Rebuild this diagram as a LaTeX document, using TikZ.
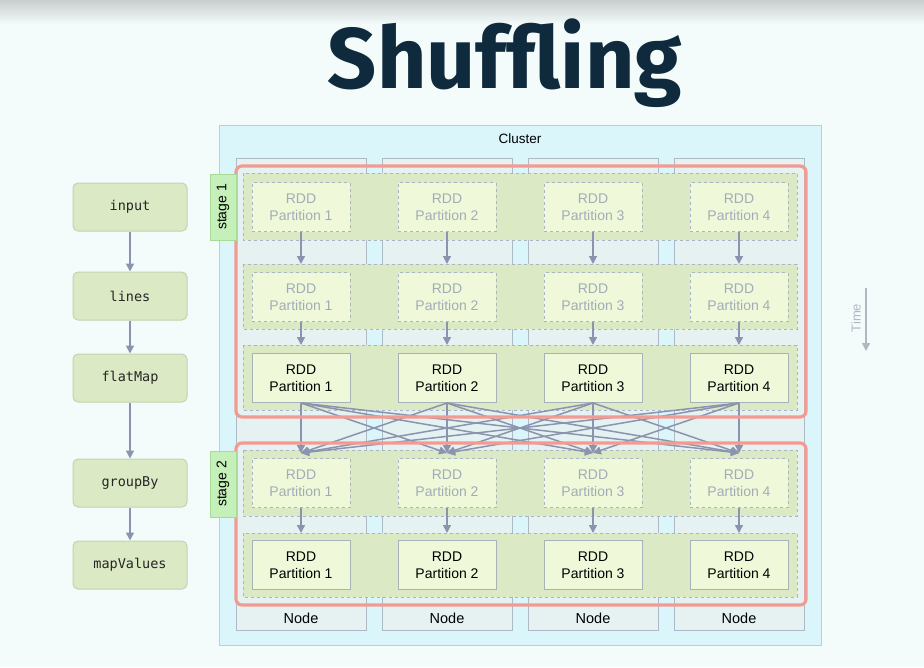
\documentclass[tikz,border=0pt]{standalone}
\usepackage{fontspec}
\setmainfont{Liberation Sans}
\newfontfamily\titlefont{Fira Sans}
\newfontfamily\codefont{DejaVu Sans Mono}
\usetikzlibrary{arrows.meta,calc}

\definecolor{bgc}{HTML}{F3FCFB}
\definecolor{topshade}{HTML}{C9CDCD}
\definecolor{titlec}{HTML}{0F2A3C}
\definecolor{clusterfill}{HTML}{DAF6FA}
\definecolor{clusterline}{HTML}{BACFD6}
\definecolor{colfill}{HTML}{E6F2F2}
\definecolor{colline}{HTML}{AEB9C6}
\definecolor{bandfill}{HTML}{DCE9C5}
\definecolor{bandline}{HTML}{A9B5C2}
\definecolor{boxfill}{HTML}{EFF9D9}
\definecolor{boxline}{HTML}{A8B2BA}
\definecolor{fadedtext}{HTML}{A3ACB6}
\definecolor{stagered}{HTML}{F39B92}
\definecolor{stagefill}{HTML}{C5F0B9}
\definecolor{stageline}{HTML}{A5DB97}
\definecolor{opfill}{HTML}{DCE9C5}
\definecolor{opline}{HTML}{C3D2B0}
\definecolor{arrowc}{HTML}{8A94AE}
\definecolor{timec}{HTML}{B0B8C4}

\tikzset{
  flow/.style={draw=arrowc, line width=1.5pt, -{Triangle[length=8pt,width=8pt]}},
  partbox/.style={minimum width=98pt, minimum height=49pt, inner sep=0pt, align=center,
    line width=1pt, font=\fontsize{14}{16.5}\selectfont},
  pending/.style={partbox, draw=bandline, dashed, fill=boxfill, text=fadedtext},
  computed/.style={partbox, draw=boxline, fill=boxfill, text=black},
  band/.style={draw=bandline, dashed, line width=1pt, fill=bandfill},
  opbox/.style={draw=opline, fill=opfill, line width=1pt, rounded corners=5pt, minimum width=114pt,
    minimum height=48pt, inner sep=0pt, font=\codefont\fontsize{13.5}{15}\selectfont, text=black!85},
  stagebox/.style={draw=stageline, fill=stagefill, rotate=90, minimum width=66pt,
    minimum height=26pt, inner sep=0pt, line width=1pt, font=\fontsize{14}{16}\selectfont},
  stageframe/.style={draw=stagered, line width=3.2pt, rounded corners=6pt},
}

\begin{document}
\begin{tikzpicture}[x=1pt,y=-1pt]
\useasboundingbox (0,0) rectangle (924,667);
% page background with a soft shadow along the top edge
\fill[bgc] (0,0) rectangle (924,667);
\shade[top color=topshade, bottom color=bgc] (0,0) rectangle (924,24);

% title
\node[anchor=base, text=titlec, font=\titlefont\bfseries\fontsize{86}{90}\selectfont] (title) at (505,88) {Shuffling};

% cluster and its four worker nodes
\draw[clusterline, line width=1pt, fill=clusterfill] (219,125) rectangle (821,645);
\node[font=\fontsize{13.5}{15}\selectfont] (cluster) at (520,139) {Cluster};
\foreach \c in {1,...,4} {
  \pgfmathsetmacro{\xl}{236+146*(\c-1)}
  \draw[colline, line width=1pt, fill=colfill] (\xl,158) rectangle ++(130,472);
  \node[font=\fontsize{14.5}{16}\selectfont] (node\c) at (\xl+65,618) {Node};
}

% horizontal bands, one per RDD
\foreach \r/\t/\b in {1/173/240, 2/264/329, 3/345/410, 4/450/516, 5/533/597} {
  \path[band] (243,\t) rectangle (797,\b);
  \coordinate (band\r) at (520,\t);
}

% partitions
\foreach \c in {1,...,4} {
  \pgfmathsetmacro{\cx}{301+146*(\c-1)}
  \node[pending]  (p1\c) at (\cx,207) {RDD\\Partition \c};
  \node[pending]  (p2\c) at (\cx,297) {RDD\\Partition \c};
  \node[computed] (p3\c) at (\cx,378) {RDD\\Partition \c};
  \node[pending]  (p4\c) at (\cx,483) {RDD\\Partition \c};
  \node[computed] (p5\c) at (\cx,565) {RDD\\Partition \c};
}

% narrow dependencies inside each node
\foreach \c in {1,...,4} {
  \draw[flow] (p1\c.south) -- (p1\c.south |- band2);
  \draw[flow] (p2\c.south) -- (p2\c.south |- band3);
  \draw[flow] (p4\c.south) -- (p4\c.south |- band5);
}

% shuffle: every partition feeds every partition of the next stage
\foreach \i in {1,...,4} {
  \foreach \j in {1,...,4} {
    \draw[flow] (p3\i.south) -- ($(p4\j.north |- band4)+(0,3)$);
  }
}

% stage frames and tags
\draw[stageframe] (236,166) rectangle (806,417);
\draw[stageframe] (236,443) rectangle (806,605);
\node[stagebox] (stage1) at (223,207) {stage 1};
\node[stagebox] (stage2) at (223,484) {stage 2};

% logical operator chain
\node[opbox] (input)     at (130,207) {input};
\node[opbox] (lines)     at (130,296) {lines};
\node[opbox] (flatMap)   at (130,378) {flatMap};
\node[opbox] (groupBy)   at (130,483) {groupBy};
\node[opbox] (mapValues) at (130,565) {mapValues};
\draw[flow] (input) -- (lines);
\draw[flow] (lines) -- (flatMap);
\draw[flow] (flatMap) -- (groupBy);
\draw[flow] (groupBy) -- (mapValues);

% time axis
\coordinate (t0) at (866,288);
\coordinate (t1) at (866,351);
\draw[draw=timec, line width=1.5pt, -{Triangle[length=8pt,width=8pt]}] (t0) -- (t1);
\node[rotate=90, text=timec, font=\fontsize{13}{15}\selectfont] (time) at (856,318) {Time};
\end{tikzpicture}
\end{document}
